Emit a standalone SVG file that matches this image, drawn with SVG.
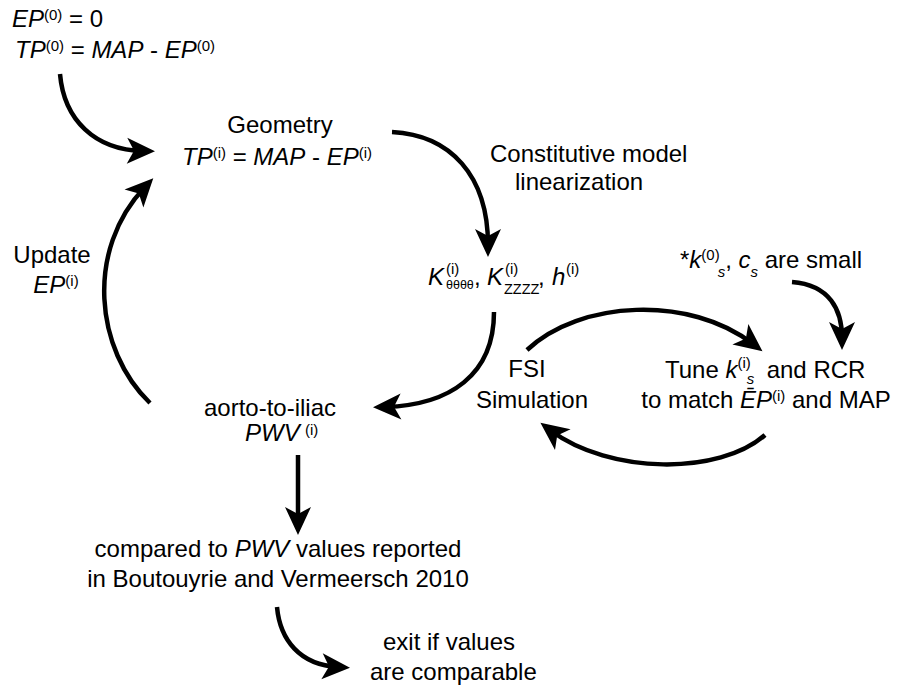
<svg xmlns="http://www.w3.org/2000/svg" width="898" height="685" viewBox="0 0 898 685">
<style>
.t{font-family:"Liberation Sans",Arial,Helvetica,sans-serif;font-size:24px;fill:#000}
.i{font-style:italic}
.sup{font-size:15px;font-style:normal}
.sub{font-size:15px}
.th{font-size:12.5px;font-style:normal}
.zz{font-size:14.5px;font-style:normal}
.c{stroke:#000;stroke-width:4.5;fill:none;marker-end:url(#ah)}
</style>
<defs>
<marker id="ah" viewBox="-18 -14 32 28" refX="0" refY="0" markerWidth="32" markerHeight="28" markerUnits="userSpaceOnUse" orient="auto">
<path d="M12,0 L-16,-13 L-9,0 L-16,13 Z" fill="#000"/>
</marker>
</defs>
<rect width="898" height="685" fill="#fff"/>

<g id="connectors">
<path class="c" d="M60,74 C64,120 95,150 143,151"/>
<path class="c" d="M392,132 C450,135 488,175 488,245"/>
<path class="c" d="M494,312 C494,375 450,405 385,407"/>
<path class="c" d="M150,403 C95,350 85,250 145,187"/>
<path class="c" d="M527,350 C580,300 690,295 753,344"/>
<path class="c" d="M765,435 C720,475 610,475 550,430"/>
<path class="c" d="M792,282 C830,285 842,310 842,338"/>
<path class="c" d="M298,455 L298,523"/>
<path class="c" d="M277,607 C280,640 300,665 338,667"/>
</g>

<g id="n-initial">
<text class="t" x="12" y="27"><tspan class="i">EP</tspan><tspan class="sup" dy="-7">(0)</tspan><tspan dy="7"> = 0</tspan></text>
<text class="t" x="15" y="58"><tspan class="i">TP</tspan><tspan class="sup" dy="-7">(0)</tspan><tspan dy="7"> = </tspan><tspan class="i">MAP</tspan> - <tspan class="i">EP</tspan><tspan class="sup" dy="-7">(0)</tspan></text>
</g>

<g id="n-geometry">
<text class="t" x="280" y="133" text-anchor="middle">Geometry</text>
<text class="t" x="182" y="165"><tspan class="i">TP</tspan><tspan class="sup" dy="-7">(i)</tspan><tspan dy="7"> = </tspan><tspan class="i">MAP</tspan> - <tspan class="i">EP</tspan><tspan class="sup" dy="-7">(i)</tspan></text>
</g>

<g id="n-constitutive">
<text class="t" x="490" y="162">Constitutive model</text>
<text class="t" x="515" y="190">linearization</text>
</g>

<g id="n-moduli">
<text class="t" x="428" y="285"><tspan class="i">K</tspan><tspan class="sup" x="446" y="274">(i)</tspan><tspan class="th" x="446" y="289">θθθθ</tspan><tspan x="474" y="285">, </tspan><tspan class="i" x="487" y="285">K</tspan><tspan class="sup" x="505" y="274">(i)</tspan><tspan class="zz" x="504" y="294">ZZZZ</tspan><tspan x="538" y="285">, </tspan><tspan class="i" x="552" y="285">h</tspan><tspan class="sup" x="566" y="274">(i)</tspan></text>
</g>

<g id="n-small">
<text class="t" x="680" y="268">*<tspan class="i">k</tspan><tspan class="sup" dy="-8">(0)</tspan><tspan class="sub i" dx="-2" dy="17">s</tspan><tspan dy="-9">, </tspan><tspan class="i">c</tspan><tspan class="sub i" dy="9">s</tspan><tspan dy="-9"> are small</tspan></text>
</g>

<g id="n-tune">
<text class="t" x="665" y="378">Tune <tspan class="i">k</tspan><tspan class="sup" dy="-10">(i)</tspan><tspan class="sub i" dx="-4" dy="16">s</tspan><tspan x="760" y="378"> and RCR</tspan></text>
<text class="t" x="766" y="408" text-anchor="middle">to match <tspan class="i">Ē</tspan><tspan class="i">P</tspan><tspan class="sup" dy="-7">(i)</tspan><tspan dy="7"> and MAP</tspan></text>
</g>

<g id="n-fsi">
<text class="t" x="527" y="377" text-anchor="middle">FSI</text>
<text class="t" x="532" y="408" text-anchor="middle">Simulation</text>
</g>

<g id="n-update">
<text class="t" x="52" y="263" text-anchor="middle">Update</text>
<text class="t" x="56" y="293" text-anchor="middle"><tspan class="i">EP</tspan><tspan class="sup" dy="-7">(i)</tspan></text>
</g>

<g id="n-pwv">
<text class="t" x="270" y="416" text-anchor="middle">aorto-to-iliac</text>
<text class="t" x="245" y="441"><tspan class="i">PWV</tspan><tspan class="sup" x="305" y="435">(i)</tspan></text>
</g>

<g id="n-compared">
<text class="t" x="278" y="557" text-anchor="middle">compared to <tspan class="i">PWV</tspan> values reported</text>
<text class="t" x="278" y="587" text-anchor="middle">in Boutouyrie and Vermeersch 2010</text>
</g>

<g id="n-exit">
<text class="t" x="383" y="650">exit if values</text>
<text class="t" x="370" y="680">are comparable</text>
</g>
</svg>
